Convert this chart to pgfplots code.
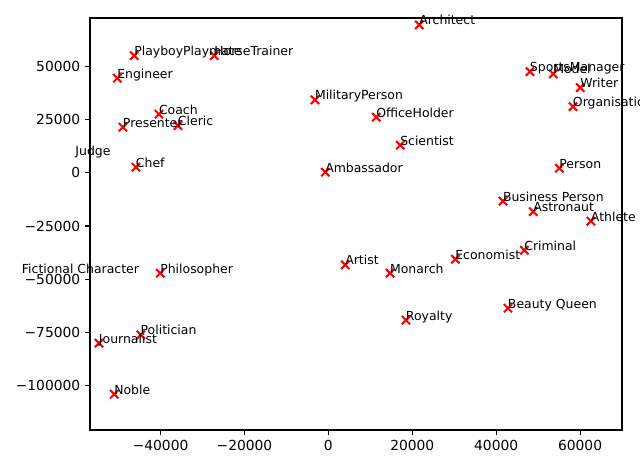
\documentclass[border=0pt]{standalone}
\usepackage{pgfplots}
\usepackage{pgfplotstable}
\pgfplotsset{compat=1.18}
\usepackage{fontspec}
\setmainfont{DejaVu Sans}

\pgfplotstableread[col sep=comma]{
x,y,label
21670,69680,Architect
-46270,55220,PlayboyPlaymate
-27200,55220,HorseTrainer
-50330,44580,Engineer
-40380,27620,Coach
-35860,22280,Cleric
-48970,21510,Presenter
-45870,2680,Chef
-60300,8000,Judge
-73050,-47400,Fictional Character
-40070,-47220,Philosopher
-44750,-76270,Politician
-54690,-80180,Journalist
-51040,-104190,Noble
-3190,34370,MilitaryPerson
11420,26220,OfficeHolder
17140,13040,Scientist
-740,330,Ambassador
48060,47690,SportsManager
53620,46610,Model
60050,40160,Writer
58310,31220,Organisation
55050,2210,Person
41630,-13330,Business Person
48850,-18210,Astronaut
62600,-22760,Athlete
46710,-36410,Criminal
30260,-40650,Economist
4030,-43310,Artist
14690,-47230,Monarch
42820,-63720,Beauty Queen
18500,-69370,Royalty
}\datatable

\begin{document}
\begin{tikzpicture}
\begin{axis}[
  at={(0,0)}, anchor=south west,
  scale only axis, width=383.04bp, height=296.64bp,
  xmin=-56830, xmax=70000, ymin=-121050, ymax=72930,
  clip=false,
  scaled ticks=false,
  axis line style={line width=0.8bp},
  tick align=outside, major tick length=3.5bp,
  tick style={line width=0.8bp, black},
  tick pos=left,
  xtick={-40000,-20000,0,20000,40000,60000},
  xticklabels={−40000,−20000,0,20000,40000,60000},
  ytick={-100000,-75000,-50000,-25000,0,25000,50000},
  yticklabels={−100000,−75000,−50000,−25000,0,25000,50000},
  ticklabel style={font=\fontsize{10}{12}\selectfont},
]
\addplot[only marks, mark=x, mark size=4.2bp, red, mark options={line width=1.5bp},
  restrict x to domain=-56830:70000] table[x=x,y=y]{\datatable};
\addplot[only marks, mark=none, draw=none,
  point meta=explicit symbolic,
  nodes near coords,
  nodes near coords style={anchor=base west, inner sep=0pt, outer sep=0pt,
    font=\fontsize{9}{11}\selectfont, text=black}] table[x=x,y=y,meta=label]{\datatable};
\end{axis}
\pgfresetboundingbox
\path[use as bounding box] (-64.8bp,-27.36bp) rectangle (396bp,309.6bp);
\end{tikzpicture}
\end{document}
